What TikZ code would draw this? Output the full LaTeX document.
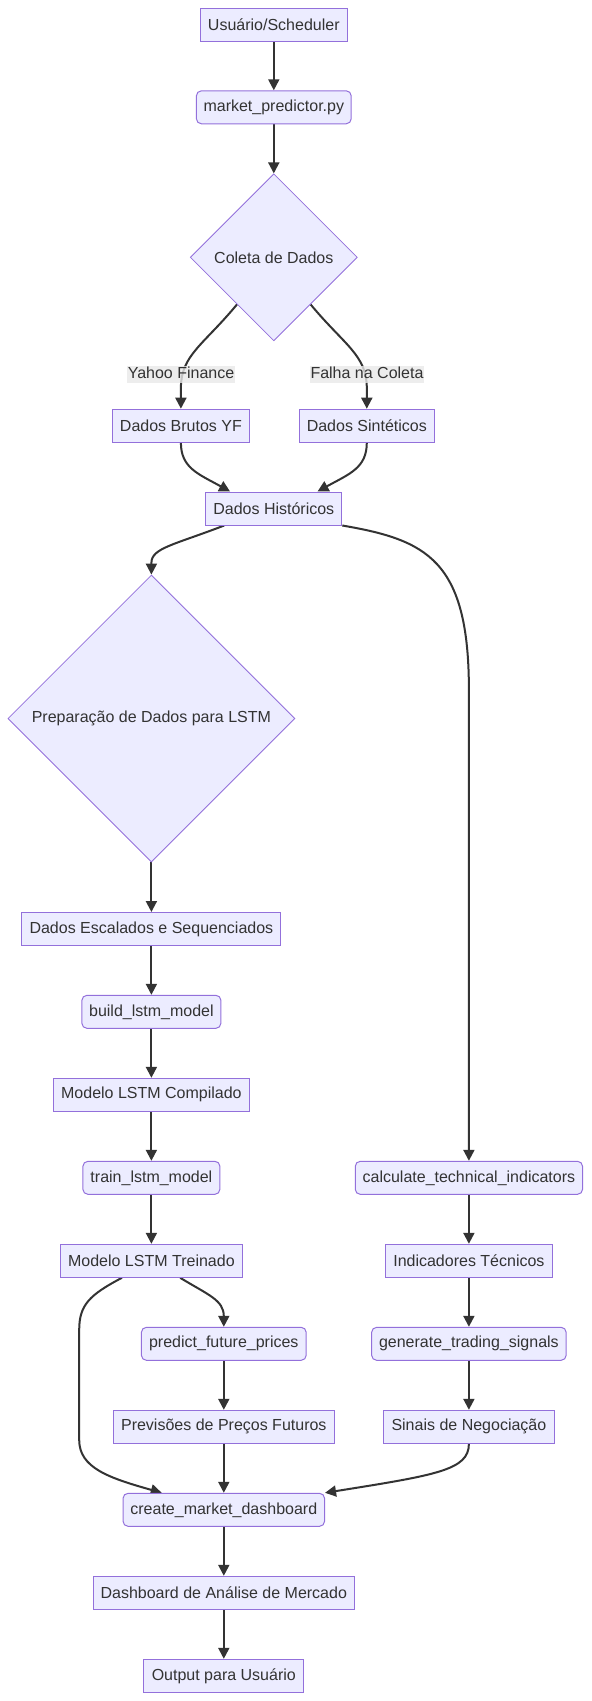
\documentclass[tikz,border=0pt]{standalone}
\usepackage{fontspec}
\setmainfont{Liberation Sans}
\usetikzlibrary{shapes.geometric,arrows.meta,calc}
\pgfdeclarelayer{background}
\pgfsetlayers{background,main}
\definecolor{nodefill}{HTML}{ECECFF}
\definecolor{nodeline}{HTML}{9370DB}
\definecolor{ink}{HTML}{333333}
\definecolor{lblbg}{HTML}{E8E8E8}
\begin{document}
\begin{tikzpicture}[x=1pt,y=-1pt,
  font=\fontsize{16}{19}\selectfont,
  box/.style={draw=nodeline, fill=nodefill, line width=1pt, minimum height=33pt, inner sep=0pt, text=ink},
  fbox/.style={box, rounded corners=5pt},
  dia/.style={diamond, draw=nodeline, fill=nodefill, line width=0.8pt, inner sep=0pt, aspect=1, text=ink},
  arr/.style={draw=ink, line width=2pt, -{Triangle[length=11pt,width=11pt]}},
  elabel/.style={fill=lblbg, fill opacity=0.8, text opacity=1, text=ink, inner xsep=1pt, inner ysep=1pt, text height=12pt, text depth=3.5pt}
]
\useasboundingbox (0,0) rectangle (592,1701);

\node[box, minimum width=146.9pt] (n1) at (273.8,24.6) {Usuário/Scheduler};
\node[fbox, minimum width=154.8pt] (n2) at (273.8,107.3) {market\_predictor.py};
\node[dia, minimum width=167pt, minimum height=167pt] (d1) at (273.8,257.3) {Coleta de Dados};
\node[elabel] (l1) at (181.0,374.6) {Yahoo Finance};
\node[elabel] (l2) at (367.0,374.6) {Falha na Coleta};
\node[box, minimum width=137pt] (n3) at (180.9,425.7) {Dados Brutos YF};
\node[box, minimum width=135pt] (n4) at (366.8,425.7) {Dados Sintéticos};
\node[box, minimum width=136pt] (n5) at (273.8,508.5) {Dados Históricos};
\node[dia, minimum width=287pt, minimum height=287pt] (d2) at (151.4,718.5) {Preparação de Dados para LSTM};
\node[box, minimum width=259pt] (n6) at (151.4,929) {Dados Escalados e Sequenciados};
\node[fbox, minimum width=139pt] (n7) at (151.4,1011.8) {build\_lstm\_model};
\node[box, minimum width=196.5pt] (n8) at (151.4,1094.8) {Modelo LSTM Compilado};
\node[fbox, minimum width=137pt] (n9) at (151.4,1177.8) {train\_lstm\_model};
\node[box, minimum width=181.6pt] (n10) at (151.4,1260.8) {Modelo LSTM Treinado};
\node[fbox, minimum width=227.3pt] (n11) at (468.9,1177.8) {calculate\_technical\_indicators};
\node[box, minimum width=166.7pt] (n12) at (468.9,1260.8) {Indicadores Técnicos};
\node[fbox, minimum width=194.5pt] (n13) at (468.9,1343.8) {generate\_trading\_signals};
\node[fbox, minimum width=164.8pt] (n14) at (223.8,1343.8) {predict\_future\_prices};
\node[box, minimum width=221.3pt] (n15) at (223.8,1426.8) {Previsões de Preços Futuros};
\node[box, minimum width=170.7pt] (n16) at (468.9,1426.8) {Sinais de Negociação};
\node[fbox, minimum width=201.5pt] (n17) at (223.8,1509.8) {create\_market\_dashboard};
\node[box, minimum width=261pt] (n18) at (223.8,1592.8) {Dashboard de Análise de Mercado};
\node[box, minimum width=159.8pt] (n19) at (223.8,1675.8) {Output para Usuário};

\begin{pgfonlayer}{background}
\draw[arr] (n1) -- (n2);
\draw[arr] (n2) -- (d1);
\draw[arr] (d1.232) .. controls (203.5,345) and (180.9,355) .. (180.9,388) -- (n3.north);
\draw[arr] (d1.308) .. controls (344.2,345) and (366.8,355) .. (366.8,388) -- (n4.north);
\draw[arr] (n3.south) .. controls (180.9,468) and (198.5,474) .. ([xshift=24.8pt]n5.north west);
\draw[arr] (n4.south) .. controls (366.8,468) and (349.2,474) .. ([xshift=-24.8pt]n5.north east);
\draw[arr] ([xshift=18.9pt]n5.south west) .. controls (173.7,545) and (151.4,548) .. (151.4,563) -- (d2.north);
\draw[arr] (n5.south east) .. controls (426.8,540) and (468.9,560) .. (468.9,690) -- (n11.north);
\draw[arr] (d2.south) -- (n6.north);
\draw[arr] (n6) -- (n7);
\draw[arr] (n7) -- (n8);
\draw[arr] (n8) -- (n9);
\draw[arr] (n9) -- (n10);
\draw[arr] (n11) -- (n12);
\draw[arr] (n12) -- (n13);
\draw[arr] (n13) -- (n16);
\draw[arr] ([xshift=28.8pt]n10.south) .. controls (208.4,1295) and (223.8,1300) .. (n14.north);
\draw[arr] ([xshift=-29.5pt]n10.south) .. controls (89.3,1295) and (79.2,1305) .. (79.2,1330) -- (79.2,1440) .. controls (79.2,1468) and (109.2,1478) .. ([xshift=39.2pt]n17.north west);
\draw[arr] (n14) -- (n15);
\draw[arr] (n15) -- (n17);
\draw[arr] (n16.south) .. controls (468.9,1470) and (436.7,1475) .. (n17.north east);
\draw[arr] (n17) -- (n18);
\draw[arr] (n18) -- (n19);
\end{pgfonlayer}
\end{tikzpicture}
\end{document}
